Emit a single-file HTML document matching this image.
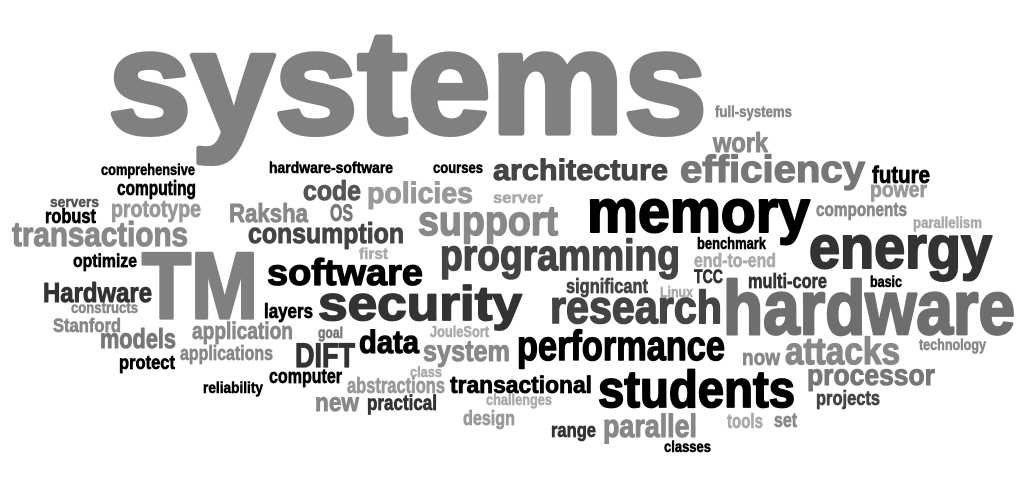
<!DOCTYPE html>
<html><head><meta charset="utf-8">
<style>
html,body{margin:0;padding:0;background:#fff;}
svg{display:block;}
text{font-family:"Liberation Sans Narrow","Liberation Sans",sans-serif;font-weight:bold;}
</style></head>
<body>
<svg id="cloud" width="1027" height="498" viewBox="0 0 1027 498" xmlns="http://www.w3.org/2000/svg">
<rect width="1027" height="498" fill="#fff"/>
</svg>
<script>
const words = ["systems","full-systems","work","comprehensive","hardware-software","courses","computing","servers","prototype","robust","transactions","Raksha","OS","code","policies","consumption","first","optimize","TM","software","Hardware","constructs","layers","security","Stanford","application","goal","JouleSort","models","data","DIFT","applications","system","protect","class","computer","reliability","abstractions","transactional","new","practical","challenges","design","architecture","efficiency","future","power","server","support","memory","components","parallelism","benchmark","energy","programming","end-to-end","TCC","multi-core","basic","significant","Linux","research","hardware","performance","now","attacks","technology","processor","students","projects","tools","set","range","parallel","classes"];
const lefts = [108,715,713,101,269,433,117,50,111,45,12,229,330,303,367,248,359,73,142,267,43,71,264,318,53,192,318,430,100,359,295,180,423,119,410,269,203,347,450,315,367,486,463,493,680,872,870,493,418,587,816,913,697,809,440,694,694,748,870,566,660,550,723,517,742,785,919,807,598,816,727,774,551,603,664];
const rights = [707,792,768,195,393,483,196,99,201,96,188,308,353,361,473,404,388,137,258,423,152,138,313,522,121,293,343,489,176,419,355,273,510,175,442,342,263,445,592,359,437,552,515,668,865,930,927,543,558,810,907,982,766,992,680,776,723,827,902,648,693,722,1015,725,780,900,986,935,795,880,763,797,596,697,711];
const baselines = [133,117,152,175,173,173,195,207,217,223,246,222,221,200,203,243,259,267,318,285,302,313,318,320,332,339,338,337,348,353,367,360,361,369,377,383,393,393,393,411,410,405,425,180,182,183,197,203,235,232,216,228,249,268,270,267,283,288,287,293,297,323,334,360,365,364,350,385,407,405,428,427,437,437,452];
const sizes = [147,16,28,16,16,16,20,15,24,20,34,26,24,28,30,29,16,18,94,37,28,16,20,48,19,24,16,16,28,32,34,20,30,19,15,20,16,22,24,26,21,16,20,30,38,24,22,16,42,60,19,16,17,60,44,19,19,20,16,20,15,46,76,42,22,38,16,30,52,20,20,20,20,32,16];
const shades = ["#808080","#888","#888","#000","#000","#000","#000","#555","#999","#000","#888","#888","#777","#555","#999","#444","#aaa","#000","#808080","#000","#333","#888","#000","#333","#888","#888","#777","#aaa","#777","#000","#333","#888","#888","#000","#aaa","#000","#000","#999","#000","#888","#333","#aaa","#999","#444","#777","#000","#999","#aaa","#888","#000","#888","#aaa","#000","#333","#444","#aaa","#333","#333","#000","#444","#aaa","#444","#6e6e6e","#000","#888","#888","#888","#777","#000","#444","#aaa","#888","#333","#888","#000"];
const svg = document.getElementById('cloud');
const NS = 'http://www.w3.org/2000/svg';
for (let i = 0; i < words.length; i++) {
  const t = document.createElementNS(NS, 'text');
  t.setAttribute('x', lefts[i]);
  t.setAttribute('y', baselines[i]);
  t.setAttribute('font-size', sizes[i]);
  t.setAttribute('fill', shades[i]);
  t.setAttribute('stroke', shades[i]);
  t.setAttribute('stroke-width', (sizes[i] * 0.035).toFixed(2));
  t.setAttribute('stroke-linejoin', 'round');
  t.setAttribute('textLength', rights[i] - lefts[i]);
  t.setAttribute('lengthAdjust', 'spacingAndGlyphs');
  t.textContent = words[i];
  
  
  svg.appendChild(t);
}
</script>
</body></html>
